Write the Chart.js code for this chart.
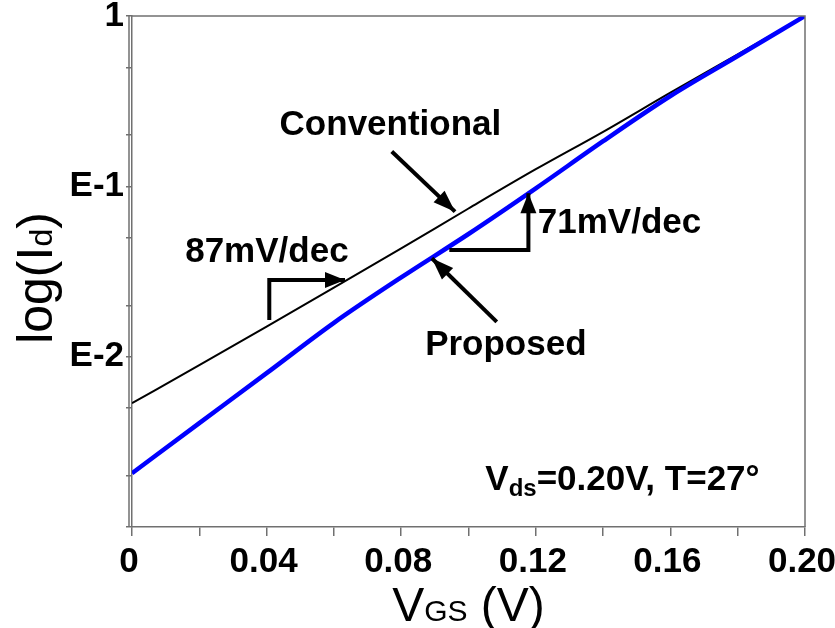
<!DOCTYPE html>
<html>
<head>
<meta charset="utf-8">
<script src="https://cdn.jsdelivr.net/npm/chart.js@4/dist/chart.umd.min.js"></script>
<style>
  html, body { margin: 0; padding: 0; background: #fff; }
  #wrap { width: 835px; height: 628px; }
</style>
</head>
<body>
<div id="wrap"><canvas id="chart"></canvas></div>
<script>
// gate voltage (V)
const vgs = [0, 0.02, 0.04, 0.06, 0.08, 0.10, 0.12, 0.14, 0.16, 0.18, 0.20];
// normalised drain current
const conventional = [0.00533, 0.00891, 0.0150, 0.0254, 0.0432, 0.0741, 0.126, 0.209, 0.355, 0.596, 1.0];
const proposed = [0.00207, 0.00407, 0.00800, 0.0158, 0.0292, 0.0525, 0.0973, 0.184, 0.339, 0.582, 1.0];

// axis ticks
const xTickLabels = ['0', '0.04', '0.08', '0.12', '0.16', '0.20'];
const yTickValues = [1, 0.5, 0.2, 0.1, 0.05, 0.02, 0.01, 0.005, 0.002, 0.001];
const yDecades = [1, 0.1, 0.01, 0.001];
const yDecadeLabels = ['1', 'E-1', 'E-2', ''];

const FONT = '"Liberation Sans", Arial, sans-serif';
const AXIS_GRAY = '#707070';

function arrow(ctx, pts, head) {
    ctx.beginPath();
    ctx.moveTo(pts[0][0], pts[0][1]);
    for (let i = 1; i < pts.length; i++) ctx.lineTo(pts[i][0], pts[i][1]);
    ctx.stroke();
    // arrow head at the last point
    const [x2, y2] = pts[pts.length - 1];
    const [x1, y1] = pts[pts.length - 2];
    const a = Math.atan2(y2 - y1, x2 - x1);
    ctx.beginPath();
    ctx.moveTo(x2, y2);
    ctx.lineTo(x2 - head * Math.cos(a) + 8 * Math.sin(a), y2 - head * Math.sin(a) - 8 * Math.cos(a));
    ctx.lineTo(x2 - head * Math.cos(a) - 8 * Math.sin(a), y2 - head * Math.sin(a) + 8 * Math.cos(a));
    ctx.closePath();
    ctx.fill();
}

const decorations = {
    id: 'decorations',
    afterDatasetsDraw(chart) {
        const ctx = chart.ctx;
        const xs = chart.scales.x, ys = chart.scales.y;
        const px = v => xs.getPixelForValue(v);
        const py = v => ys.getPixelForValue(v);
        const area = chart.chartArea;

        ctx.save();
        // frame
        ctx.strokeStyle = AXIS_GRAY;
        ctx.lineWidth = 1.5;
        ctx.beginPath();
        ctx.moveTo(area.left, area.top);
        ctx.lineTo(area.right, area.top);
        ctx.lineTo(area.right, area.bottom);
        ctx.moveTo(area.left - 3, area.top);
        ctx.lineTo(area.left - 3, area.bottom);
        ctx.stroke();

        // arrows
        ctx.strokeStyle = '#000';
        ctx.fillStyle = '#000';
        ctx.lineWidth = 4;
        ctx.lineJoin = 'miter';
        arrow(ctx, [[px(0.0772), py(0.160)], [px(0.0960), py(0.071)]], 22);
        arrow(ctx, [[px(0.1084), py(0.0160)], [px(0.0891), py(0.0378)]], 22);
        arrow(ctx, [[px(0.0943), py(0.0423)], [px(0.1178), py(0.0423)], [px(0.1178), py(0.091)]], 20);
        arrow(ctx, [[px(0.0408), py(0.0164)], [px(0.0408), py(0.0282)], [px(0.0633), py(0.0282)]], 20);

        // labels
        ctx.font = 'bold 35px ' + FONT;
        ctx.textBaseline = 'alphabetic';
        ctx.textAlign = 'center';
        ctx.fillText('Conventional', px(0.0768), py(0.2));
        ctx.fillText('Proposed', px(0.1111), py(0.0102));
        ctx.textAlign = 'left';
        ctx.fillText('71mV/dec', px(0.1206), py(0.053));
        ctx.fillText('87mV/dec', px(0.0158), py(0.0361));

        // V_ds=0.20V, T=27°
        let x = px(0.1050);
        const yb = py(0.00165);
        ctx.fillText('V', x, yb);
        x += ctx.measureText('V').width;
        ctx.font = 'bold 24px ' + FONT;
        ctx.fillText('ds', x, yb + 6);
        x += ctx.measureText('ds').width;
        ctx.font = 'bold 35px ' + FONT;
        ctx.fillText('=0.20V, T=27\u00B0', x, yb);
        ctx.restore();
    },
    afterDraw(chart) {
        const ctx = chart.ctx;
        const area = chart.chartArea;
        ctx.save();
        ctx.fillStyle = '#000';
        ctx.textBaseline = 'alphabetic';
        ctx.textAlign = 'left';

        // x title: V_GS (V)
        const big = '48px ' + FONT, small = '30px ' + FONT;
        const xParts = [['V', big], ['GS', small], [' (V)', big]];
        let w = 0;
        xParts.forEach(p => { ctx.font = p[1]; w += ctx.measureText(p[0]).width; });
        let x = (area.left + area.right) / 2 - w / 2;
        xParts.forEach(p => { ctx.font = p[1]; ctx.fillText(p[0], x, 621); x += ctx.measureText(p[0]).width; });

        // y title: log(I_d)
        const ybig = '50px ' + FONT, ysmall = '32px ' + FONT;
        const yParts = [['log(I', ybig], ['d', ysmall], [')', ybig]];
        w = 0;
        yParts.forEach(p => { ctx.font = p[1]; w += ctx.measureText(p[0]).width; });
        ctx.translate(52, 278);
        ctx.rotate(-Math.PI / 2);
        x = -w / 2;
        yParts.forEach(p => { ctx.font = p[1]; ctx.fillText(p[0], x, 0); x += ctx.measureText(p[0]).width; });
        ctx.restore();
    }
};

new Chart(document.getElementById('chart'), {
    type: 'line',
    data: {
        datasets: [
            {
                label: 'Proposed',
                data: vgs.map((v, i) => ({ x: v, y: proposed[i] })),
                borderColor: '#0000ff',
                borderWidth: 4.5,
                pointRadius: 0,
                cubicInterpolationMode: 'monotone'
            },
            {
                label: 'Conventional',
                data: vgs.map((v, i) => ({ x: v, y: conventional[i] })),
                borderColor: '#000000',
                borderWidth: 2,
                pointRadius: 0,
                cubicInterpolationMode: 'monotone'
            }
        ]
    },
    options: {
        responsive: true,
        maintainAspectRatio: false,
        animation: false,
        layout: { padding: { top: 16, right: 30, left: 0, bottom: 0 } },
        plugins: {
            legend: { display: false },
            tooltip: { enabled: false }
        },
        scales: {
            x: {
                type: 'linear',
                min: 0,
                max: 0.2,
                grid: { drawOnChartArea: false, drawTicks: true, tickLength: 9, color: AXIS_GRAY, lineWidth: 1.5 },
                border: { display: true, color: AXIS_GRAY, width: 1.5 },
                ticks: {
                    stepSize: 0.02,
                    autoSkip: false,
                    maxRotation: 0,
                    padding: 5,
                    labelOffset: -3,
                    color: '#000',
                    font: { family: FONT, size: 35, weight: 'bold' },
                    callback: (value, index) => index % 2 === 0 ? xTickLabels[index / 2] : ''
                },
                afterFit: scale => {
                    scale.height = 101;
                    scale.paddingLeft = 0;
                    scale.paddingRight = 0;
                }
            },
            y: {
                type: 'logarithmic',
                min: 0.001,
                max: 1,
                grid: { drawOnChartArea: false, drawTicks: true, tickLength: 6, color: AXIS_GRAY, lineWidth: 1.5 },
                border: { display: true, color: AXIS_GRAY, width: 1.5 },
                afterBuildTicks: scale => {
                    scale.ticks = yTickValues.map(v => ({ value: v }));
                },
                ticks: {
                    autoSkip: false,
                    padding: 2,
                    color: '#000',
                    font: { family: FONT, size: 35, weight: 'bold' },
                    callback: value => {
                        const i = yDecades.findIndex(d => Math.abs(Math.log10(d) - Math.log10(value)) < 1e-6);
                        return i >= 0 ? yDecadeLabels[i] : '';
                    }
                },
                afterFit: scale => {
                    scale.width = 132;
                    scale.paddingTop = 0;
                    scale.paddingBottom = 0;
                }
            }
        }
    },
    plugins: [decorations]
});
</script>
</body>
</html>
